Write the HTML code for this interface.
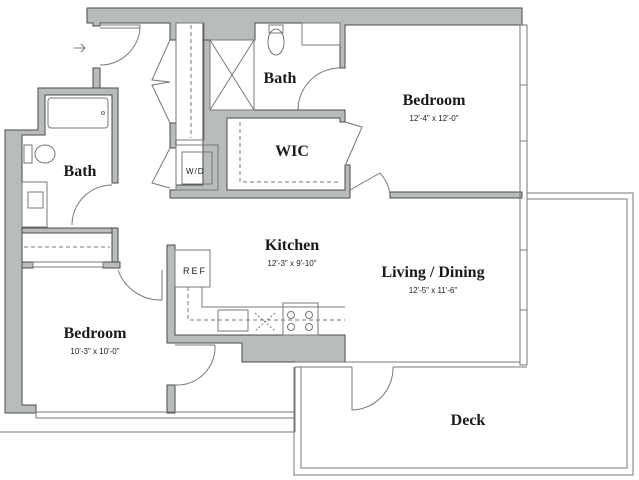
<!DOCTYPE html>
<html><head><meta charset="utf-8"><style>
html,body{margin:0;padding:0;background:#fff;}
svg{display:block;}
text{font-family:"Liberation Serif",serif;fill:#1a1a1a;}
.t{font-size:16px;font-weight:bold;text-anchor:middle;}
.d{font-family:"Liberation Sans",sans-serif;font-size:8px;text-anchor:middle;}
</style></head><body>
<svg width="639" height="480" viewBox="0 0 639 480" xmlns="http://www.w3.org/2000/svg">
<g fill="#b9bdb9" stroke="#4a4a4a" stroke-width="1">
<path d="M87 8 H522 V25 H345 V68 H340 V23 H255 V40 H203 V23 H176 V40 H170 V23 H100 V26 H93 V23 H87 Z"/>
<rect x="93" y="68" width="7" height="22"/>
<path d="M38 88 H118 V183 H112 V95 H45 V135 H22 V405 H36 V413 H5 V130 H38 Z"/>
<rect x="170" y="123" width="6" height="25"/>
<path d="M203 40 H210 V110 H345 V122 H340 V118 H227 V190 H345 V165 H350 V198 H170 V190 H176 V185 H203 Z" />
<rect x="390" y="192" width="132" height="6"/>
<rect x="22" y="228" width="96" height="5"/>
<rect x="112" y="228" width="6" height="37"/>
<rect x="22" y="262" width="11" height="6"/>
<rect x="103" y="262" width="17" height="6"/>
<path d="M167 245 H175 V335 H345 V362 H242 V343 H167 Z"/>
<rect x="167" y="385" width="8" height="28"/>
</g>
<g fill="none" stroke="#777" stroke-width="1">
<rect x="520" y="25" width="7" height="340"/>
<line x1="520" y1="85" x2="527" y2="85"/><line x1="520" y1="141" x2="527" y2="141"/><line x1="520" y1="250" x2="527" y2="250"/><line x1="520" y1="310" x2="527" y2="310"/>
<path d="M295 362 H520 M295 367 H352 M393 367 H527"/>
<path d="M527 193 H633 V475 H294 V367"/>
<path d="M527 199 H627 V468 H301 V367"/>
<rect x="36" y="412" width="259" height="6"/>
<line x1="0" y1="432" x2="295" y2="432"/>
<path d="M295 367 V432"/>
<rect x="48" y="98" width="60" height="30" rx="3"/>
<circle cx="103" cy="113" r="1.5"/>
<ellipse cx="45" cy="154" rx="10" ry="9"/><rect x="24" y="145" width="8" height="18"/>
<rect x="22" y="182" width="25" height="45"/><rect x="28" y="192" width="15" height="16"/>
<path d="M72 225 A40 40 0 0 1 112 185"/>
<rect x="176" y="23" width="28" height="117"/>
<line x1="191" y1="25" x2="191" y2="138" stroke-dasharray="4 3"/>
<path d="M170 40 L152 80 L170 82 L152 85 L170 123"/>
<rect x="176" y="145" width="42" height="45"/><rect x="182" y="152" width="30" height="32"/>
<path d="M170 148 L152 183 L170 188"/>
<rect x="210" y="40" width="44" height="70"/>
<path d="M210 40 L254 110 M254 40 L210 110"/>
<ellipse cx="276" cy="42" rx="8" ry="13"/><rect x="269" y="25" width="14" height="8"/>
<rect x="302" y="23" width="38" height="22"/>
<path d="M298 110 A42 42 0 0 1 340 68"/>
<path d="M240 122 V182 H340" stroke-dasharray="4 3"/>
<path d="M345 122 L362 127 L345 166"/>
<path d="M350 190 L380 173 A40 40 0 0 1 390 195"/>
<path d="M100 25 H140 V28 H100"/><path d="M100 65 A40 40 0 0 0 140 28"/>
<path d="M74 48 H85 M81 44 L85 48 L81 52"/>
<path d="M118 270 A45 45 0 0 0 162 300 M162 270 V300"/>
<rect x="33" y="262" width="70" height="5"/>
<line x1="24" y1="247" x2="110" y2="247" stroke-dasharray="4 3"/>
<path d="M175 345 H215 M215 345 A38 38 0 0 1 175 385"/>
<rect x="175" y="250" width="35" height="37"/>
<path d="M202 287 V307 H345"/>
<path d="M188 287 V320 H345" stroke-dasharray="4 3"/>
<rect x="218" y="310" width="30" height="21"/>
<rect x="283" y="303" width="35" height="32"/>
<circle cx="291" cy="315" r="3.5"/><circle cx="309" cy="315" r="3.5"/><circle cx="291" cy="327" r="3.5"/><circle cx="309" cy="327" r="3.5"/>
<path d="M255 313 L275 331 M275 313 L255 331" stroke-dasharray="2 2"/>
<path d="M352 367 V410 A42 42 0 0 0 393 367" />
</g>
<text x="186" y="174" style="font-family:'Liberation Sans',sans-serif;font-size:8px;letter-spacing:1px">W/D</text>
<text x="183" y="274" style="font-family:'Liberation Sans',sans-serif;font-size:9px;letter-spacing:2px">REF</text>
<text class="t" x="280" y="83">Bath</text>
<text class="t" x="292" y="156">WIC</text>
<text class="t" x="434" y="105">Bedroom</text>
<text class="d" x="434" y="121">12'-4" x 12'-0"</text>
<text class="t" x="80" y="176">Bath</text>
<text class="t" x="292" y="250">Kitchen</text>
<text class="d" x="292" y="266">12'-3" x 9'-10"</text>
<text class="t" x="433" y="277">Living / Dining</text>
<text class="d" x="433" y="293">12'-5" x 11'-6"</text>
<text class="t" x="95" y="338">Bedroom</text>
<text class="d" x="95" y="354">10'-3" x 10'-0"</text>
<text class="t" x="468" y="425">Deck</text>
</svg>
</body></html>
